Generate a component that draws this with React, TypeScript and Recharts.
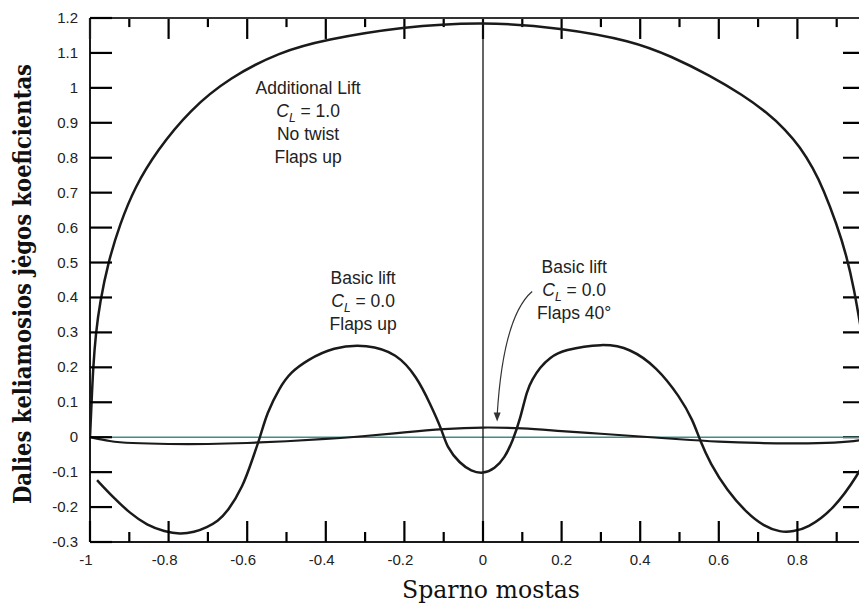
import { LineChart, Line, XAxis, YAxis, ReferenceLine, ReferenceDot } from 'recharts';

// spanwise station (-1 … 1) and section lift coefficient for each curve
const additionalX = [-1, -0.996, -0.992, -0.985, -0.975, -0.954, -0.924, -0.886, -0.83, -0.746, -0.644, -0.517, -0.402, -0.206, 0, 0.2, 0.379, 0.48, 0.578, 0.66, 0.722, 0.77, 0.807, 0.84, 0.866, 0.9, 0.925, 0.945, 0.96, 0.98, 1];
const additionalY = [0, 0.1, 0.2, 0.3, 0.384, 0.5, 0.61, 0.716, 0.82, 0.937, 1.03, 1.103, 1.138, 1.175, 1.19, 1.172, 1.135, 1.09, 1.035, 0.98, 0.93, 0.88, 0.83, 0.77, 0.71, 0.61, 0.52, 0.42, 0.32, 0.19, 0];

const flaps40X = [-0.982, -0.941, -0.898, -0.855, -0.81, -0.771, -0.735, -0.702, -0.675, -0.651, -0.611, -0.585, -0.567, -0.55, -0.517, -0.49, -0.448, -0.382, -0.295, -0.219, -0.168, -0.135, -0.104, -0.092, -0.059, -0.03, 0, 0.03, 0.055, 0.076, 0.094, 0.112, 0.125, 0.145, 0.17, 0.204, 0.305, 0.374, 0.443, 0.501, 0.534, 0.552, 0.578, 0.621, 0.672, 0.715, 0.756, 0.79, 0.824, 0.891, 0.957, 0.98];
const flaps40Y = [-0.123, -0.172, -0.218, -0.252, -0.27, -0.278, -0.272, -0.258, -0.24, -0.215, -0.143, -0.057, 0, 0.069, 0.143, 0.185, 0.22, 0.258, 0.266, 0.24, 0.172, 0.097, 0.02, -0.029, -0.075, -0.097, -0.105, -0.09, -0.06, -0.009, 0.049, 0.135, 0.165, 0.2, 0.228, 0.25, 0.269, 0.255, 0.2, 0.115, 0.049, -0.009, -0.075, -0.152, -0.218, -0.255, -0.272, -0.27, -0.261, -0.209, -0.103, -0.05];

const flapsUpX = [-1, -0.95, -0.9, -0.8, -0.7, -0.6, -0.5, -0.4, -0.3, -0.2, -0.1, 0, 0.1, 0.2, 0.3, 0.4, 0.5, 0.6, 0.7, 0.8, 0.9, 0.96, 1];
const flapsUpY = [0, -0.012, -0.017, -0.02, -0.02, -0.017, -0.012, -0.005, 0.003, 0.014, 0.024, 0.029, 0.026, 0.017, 0.01, 0.002, -0.006, -0.013, -0.017, -0.018, -0.016, -0.01, 0];

const xTicks = [-1, -0.9, -0.8, -0.7, -0.6, -0.5, -0.4, -0.3, -0.2, -0.1, 0, 0.1, 0.2, 0.3, 0.4, 0.5, 0.6, 0.7, 0.8, 0.9, 1];
const yTicks = [-0.3, -0.2, -0.1, 0, 0.1, 0.2, 0.3, 0.4, 0.5, 0.6, 0.7, 0.8, 0.9, 1, 1.1, 1.2];

const zip = (xs: number[], ys: number[]) => xs.map((x, i) => ({ x, y: ys[i] }));
const additional = zip(additionalX, additionalY);
const flaps40 = zip(flaps40X, flaps40Y);
const flapsUp = zip(flapsUpX, flapsUpY);

const sans = '"Liberation Sans", Arial, sans-serif';
const serif = '"DejaVu Serif", "Liberation Serif", serif';
const ink = '#1a1a1a';
const tickInk = '#000';

const isMajor = (v: number) => Math.round(v * 10) % 2 === 0;

// frame tick lengths in axis units (plot is ~393 px per x unit, ~349 px per y unit)
const TOP_LONG = 0.06;
const TOP_SHORT = 0.026;
const RIGHT_LEN = 0.084;

function BottomTick({ x, y, payload }: any) {
  const v = payload.value;
  const major = isMajor(v);
  return (
    <g>
      <line x1={x} x2={x} y1={y} y2={y - (major ? 21 : 10)} stroke={tickInk} strokeWidth={2.2} />
      {major && v < 1 && (
        <text x={v < 0 ? x - 4 : x} y={y + 23} textAnchor="middle" fontFamily={sans} fontSize={15} fill="#222">
          {String(v)}
        </text>
      )}
    </g>
  );
}

function LeftTick({ x, y, payload }: any) {
  return (
    <g>
      <line x1={x} x2={x + 22} y1={y} y2={y} stroke={tickInk} strokeWidth={2.2} />
      <text x={x - 12} y={y + 5} textAnchor="end" fontFamily={sans} fontSize={15} fill="#222">
        {String(payload.value)}
      </text>
    </g>
  );
}

const cl = (v: string) => (
  <>
    <tspan fontStyle="italic">C</tspan>
    <tspan fontStyle="italic" fontSize={12} dy={5}>L</tspan>
    <tspan dy={-5}>{` = ${v}`}</tspan>
  </>
);

function Note({ viewBox, lines }: any) {
  const { x, y } = viewBox;
  return (
    <g>
      {lines.map((l: any, i: number) => (
        <text key={i} x={x} y={y + 6 + i * 23} textAnchor="middle" fontFamily={sans} fontSize={17.5} fill="#222">
          {l}
        </text>
      ))}
    </g>
  );
}

function Arrow({ viewBox }: any) {
  const { x, y } = viewBox;
  return (
    <g>
      <path d={`M ${x + 35} ${y - 130} Q ${x + 6} ${y - 105} ${x} ${y - 6}`} fill="none" stroke="#333" strokeWidth={1.2} />
      <polygon points={`${x},${y} ${x - 3.5},${y - 9} ${x + 3.5},${y - 9}`} fill="#333" />
    </g>
  );
}

export default function App() {
  return (
    <div style={{ position: 'absolute', left: 0, top: 0, width: 859, height: 604, overflow: 'hidden', background: '#fff' }}>
      <LineChart width={900} height={604} margin={{ top: 17, right: 23, bottom: 0, left: 0 }}>
        <XAxis
          dataKey="x"
          type="number"
          domain={[-1, 1]}
          ticks={xTicks}
          interval={0}
          allowDataOverflow
          height={62}
          tickSize={0}
          tickMargin={0}
          tickLine={false}
          axisLine={{ stroke: ink, strokeWidth: 2 }}
          tick={<BottomTick />}
          label={() => (
            <text x={491} y={598} textAnchor="middle" fontFamily={serif} fontSize={24} textLength={178} lengthAdjust="spacingAndGlyphs" fill="#111">
              Sparno mostas
            </text>
          )}
        />
        <XAxis
          xAxisId="top"
          orientation="top"
          type="number"
          domain={[-1, 1]}
          allowDataOverflow
          height={1}
          tick={false}
          tickLine={false}
          axisLine={{ stroke: '#333', strokeWidth: 2 }}
        />
        <YAxis
          type="number"
          domain={[-0.3, 1.2]}
          ticks={yTicks}
          interval={0}
          allowDataOverflow
          width={90}
          tickSize={0}
          tickMargin={0}
          tickLine={false}
          axisLine={{ stroke: ink, strokeWidth: 2 }}
          tick={<LeftTick />}
          label={() => (
            <text
              transform="translate(31 284) rotate(-90)"
              textAnchor="middle"
              fontFamily={serif}
              fontWeight="bold"
              fontSize={24}
              textLength={440}
              lengthAdjust="spacingAndGlyphs"
              fill="#111"
            >
              Dalies keliamosios jėgos koeficientas
            </text>
          )}
        />
        <YAxis
          yAxisId="right"
          orientation="right"
          type="number"
          domain={[-0.3, 1.2]}
          allowDataOverflow
          width={1}
          tick={false}
          tickLine={false}
          axisLine={{ stroke: ink, strokeWidth: 2 }}
        />
        {/* inward ticks along the top and right frame */}
        {xTicks.map((v) => (
          <ReferenceLine
            key={`t${v}`}
            segment={[
              { x: v, y: 1.2 },
              { x: v, y: 1.2 - (isMajor(v) ? TOP_LONG : TOP_SHORT) },
            ]}
            stroke={tickInk}
            strokeWidth={2.2}
            ifOverflow="visible"
          />
        ))}
        {yTicks.map((v) => (
          <ReferenceLine
            key={`r${v}`}
            segment={[
              { x: 1 - RIGHT_LEN, y: v },
              { x: 1, y: v },
            ]}
            stroke={tickInk}
            strokeWidth={2.2}
            ifOverflow="visible"
          />
        ))}
        <ReferenceLine y={0} stroke="#3f8f88" strokeWidth={1.5} />
        <ReferenceLine x={0} stroke="#111" strokeWidth={1.3} />
        <Line data={additional} dataKey="y" type="basis" stroke={ink} strokeWidth={2.5} dot={false} isAnimationActive={false} />
        <Line data={flapsUp} dataKey="y" type="basis" stroke={ink} strokeWidth={2.2} dot={false} isAnimationActive={false} />
        <Line data={flaps40} dataKey="y" type="basis" stroke={ink} strokeWidth={2.5} dot={false} isAnimationActive={false} />
        <ReferenceDot
          x={-0.445}
          y={1.0}
          r={0}
          fill="none"
          stroke="none"
          label={(p: any) => <Note viewBox={p.viewBox} lines={['Additional Lift', cl('1.0'), 'No twist', 'Flaps up']} />}
        />
        <ReferenceDot
          x={-0.305}
          y={0.456}
          r={0}
          fill="none"
          stroke="none"
          label={(p: any) => <Note viewBox={p.viewBox} lines={['Basic lift', cl('0.0'), 'Flaps up']} />}
        />
        <ReferenceDot
          x={0.232}
          y={0.487}
          r={0}
          fill="none"
          stroke="none"
          label={(p: any) => <Note viewBox={p.viewBox} lines={['Basic lift', cl('0.0'), 'Flaps 40°']} />}
        />
        <ReferenceDot x={0.036} y={0.045} r={0} fill="none" stroke="none" label={(p: any) => <Arrow viewBox={p.viewBox} />} />
      </LineChart>
    </div>
  );
}
